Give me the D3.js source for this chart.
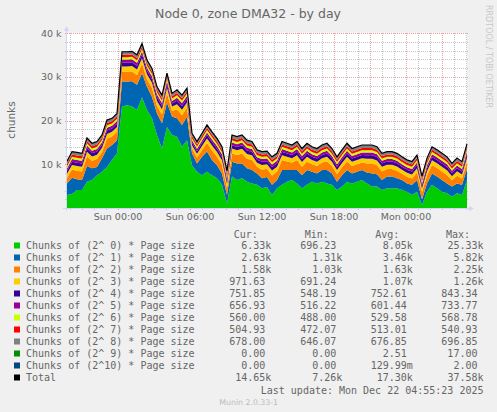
<!DOCTYPE html>
<html lang="en">
<head>
<meta charset="utf-8">
<title>Node 0, zone DMA32 - by day</title>
<script src="https://cdn.jsdelivr.net/npm/d3@7"></script>
<style>
  html, body { margin: 0; padding: 0; background: #f0f0f0; }
  svg { display: block; }
</style>
</head>
<body>
<script>
// one sample every 25 minutes, Sat 19:45 -> Mon 05:05
var start = Date.UTC(2025, 11, 20, 19, 45);
var stepMin = 25;

// chunks of (2^n) * page size
var order0 = [3000, 3200, 4100, 4100, 6000, 6400, 7500, 8300, 9400, 11000,
  12500, 23200, 23500, 23200, 22400, 25330, 22400, 20500, 16700, 13600,
  18500, 16700, 16300, 14000, 15500, 9800, 8300, 7500, 8300, 7500,
  6800, 5300, 1100, 7200, 6400, 6800, 6000, 5600, 5300, 4500,
  4800, 3000, 4500, 5300, 6000, 6400, 5600, 4500, 5300, 6000,
  5600, 6000, 5600, 5300, 4100, 4900, 6000, 5600, 6000, 6400,
  5600, 4900, 4900, 4100, 4500, 4500, 4500, 4100, 3700, 3000,
  3700, 700, 3700, 5300, 4500, 3700, 3400, 2600, 3400, 3000,
  6330];
var order1 = [2600, 3700, 2500, 2300, 3600, 2700, 1900, 3100, 4200, 3400,
  3000, 5700, 5400, 5800, 5800, 5470, 5300, 4900, 4900, 5800,
  5600, 4200, 4200, 5000, 5400, 2700, 1900, 4200, 4600, 3500,
  3000, 2600, 1900, 3400, 3800, 3400, 3100, 3100, 2600, 2300,
  2300, 2300, 1900, 3400, 2700, 2300, 3100, 3000, 3400, 2300,
  2300, 2700, 3100, 2600, 1900, 2600, 2700, 2300, 2300, 2300,
  2500, 3000, 2800, 2300, 2700, 2700, 2300, 2300, 1900, 2300,
  2700, 1310, 1900, 2600, 2700, 2700, 2200, 2300, 2200, 2300,
  2630];
var order2 = [1340, 1885, 1930, 1930, 2145, 1690, 1790, 1420, 2220, 1930,
  1930, 2220, 2220, 2220, 2220, 2200, 1705, 2045, 1705, 1945,
  2120, 1280, 2045, 2220, 2045, 1110, 1330, 1520, 1930, 2145,
  1930, 1930, 1585, 1930, 1930, 2245, 2145, 2245, 1520, 1930,
  1890, 2145, 1930, 2245, 1930, 1690, 2245, 1930, 1930, 1690,
  1690, 1690, 1930, 1690, 1690, 1790, 1930, 1690, 1690, 1690,
  2045, 2245, 2045, 1930, 1690, 1690, 1690, 1420, 1520, 1420,
  1690, 1670, 1790, 1930, 1930, 1930, 1930, 1420, 1790, 1420,
  1580];
var order3 = [900, 1050, 1080, 1080, 1120, 1000, 1000, 950, 1120, 1080,
  1080, 1250, 1250, 1250, 1250, 1250, 1150, 1180, 1150, 1180,
  1250, 1000, 1180, 1250, 1180, 750, 850, 950, 1080, 1120,
  1080, 1080, 950, 1080, 1080, 1120, 1120, 1120, 950, 1080,
  1000, 1120, 1080, 1120, 1080, 1000, 1120, 1080, 1080, 1000,
  1000, 1000, 1080, 1000, 1000, 1000, 1080, 1000, 1000, 1000,
  1120, 1120, 1120, 1080, 1000, 1000, 1000, 950, 950, 950,
  1000, 800, 1000, 1080, 1080, 1080, 1080, 950, 1000, 950,
  972];
var order4 = [650, 750, 760, 760, 780, 720, 720, 680, 790, 760,
  760, 840, 840, 840, 840, 840, 800, 810, 800, 810,
  840, 700, 810, 840, 810, 580, 620, 680, 760, 780,
  760, 760, 700, 760, 760, 780, 780, 780, 680, 760,
  720, 780, 760, 780, 760, 720, 780, 760, 760, 720,
  720, 720, 760, 720, 720, 720, 760, 720, 720, 720,
  780, 780, 780, 760, 720, 720, 720, 680, 680, 680,
  720, 600, 720, 760, 760, 760, 760, 680, 720, 680,
  752];
var order5 = [560, 600, 610, 610, 620, 590, 590, 570, 630, 610,
  610, 710, 710, 710, 710, 710, 680, 690, 680, 690,
  710, 600, 690, 710, 690, 530, 550, 570, 610, 620,
  610, 610, 580, 610, 610, 620, 620, 620, 570, 610,
  590, 620, 610, 620, 610, 590, 620, 610, 610, 590,
  590, 590, 610, 590, 590, 590, 610, 590, 590, 590,
  620, 620, 620, 610, 590, 590, 590, 570, 570, 570,
  590, 540, 590, 610, 610, 610, 610, 570, 590, 570,
  657];
var order6 = [500, 530, 530, 530, 540, 525, 525, 515, 540, 530,
  530, 560, 560, 560, 560, 560, 550, 555, 550, 555,
  560, 530, 555, 560, 555, 495, 500, 515, 530, 540,
  530, 530, 520, 530, 530, 540, 540, 540, 515, 530,
  525, 540, 530, 540, 530, 525, 540, 530, 530, 525,
  525, 525, 530, 525, 525, 525, 530, 525, 525, 525,
  540, 540, 540, 530, 525, 525, 525, 515, 515, 515,
  525, 500, 525, 530, 530, 530, 530, 515, 525, 515,
  560];
var order7 = [490, 510, 510, 510, 515, 505, 505, 500, 515, 510,
  510, 530, 530, 530, 530, 530, 525, 530, 525, 530,
  530, 510, 530, 530, 530, 480, 490, 500, 510, 515,
  510, 510, 500, 510, 510, 515, 515, 515, 500, 510,
  505, 515, 510, 515, 510, 505, 515, 510, 510, 505,
  505, 505, 510, 505, 505, 505, 510, 505, 505, 505,
  515, 515, 515, 510, 505, 505, 505, 500, 500, 500,
  505, 485, 505, 510, 510, 510, 510, 500, 505, 500,
  505];
var order8 = [660, 675, 680, 680, 680, 670, 670, 665, 685, 680,
  680, 690, 690, 690, 690, 690, 690, 690, 690, 690,
  690, 680, 690, 690, 690, 655, 660, 665, 680, 680,
  680, 680, 665, 680, 680, 680, 680, 680, 665, 680,
  670, 680, 680, 680, 680, 670, 680, 680, 680, 670,
  670, 670, 680, 670, 670, 670, 680, 670, 670, 670,
  680, 680, 680, 680, 670, 670, 670, 665, 665, 665,
  670, 655, 670, 680, 680, 680, 680, 665, 670, 665,
  678];
var order9 = [0, 0, 0, 0, 0, 0, 0, 0, 0, 0,
  0, 17, 17, 17, 15, 17, 12, 8, 4, 0,
  0, 0, 0, 0, 0, 0, 0, 0, 0, 0,
  0, 0, 0, 0, 0, 0, 0, 0, 0, 0,
  0, 0, 0, 0, 0, 0, 0, 0, 0, 0,
  0, 0, 0, 0, 0, 0, 0, 0, 0, 0,
  0, 0, 0, 0, 0, 0, 0, 0, 0, 0,
  0, 0, 0, 0, 0, 0, 0, 0, 0, 0,
  0];
var order10 = [0, 0, 0, 0, 0, 0, 0, 0, 0, 0,
  0, 0, 1, 0, 0, 2, 0, 0, 0, 0,
  0, 0, 0, 0, 0, 0, 0, 0, 0, 0,
  0, 0, 0, 0, 0, 0, 0, 0, 0, 0,
  0, 0, 0, 0, 0, 0, 0, 0, 0, 0,
  0, 0, 0, 0, 0, 0, 0, 0, 0, 0,
  0, 0, 0, 0, 0, 0, 0, 0, 0, 0,
  0, 0, 0, 0, 0, 0, 0, 0, 0, 0,
  0];

var seriesLabels = ["Chunks of (2^ 0) * Page size", "Chunks of (2^ 1) * Page size",
  "Chunks of (2^ 2) * Page size", "Chunks of (2^ 3) * Page size",
  "Chunks of (2^ 4) * Page size", "Chunks of (2^ 5) * Page size",
  "Chunks of (2^ 6) * Page size", "Chunks of (2^ 7) * Page size",
  "Chunks of (2^ 8) * Page size", "Chunks of (2^ 9) * Page size",
  "Chunks of (2^10) * Page size", "Total"];
var seriesColors = ["#00CC00", "#0066B3", "#FF8000", "#FFCC00", "#330099", "#990099",
  "#CCFF00", "#FF0000", "#808080", "#008F00", "#00487D", "#000000"];
var curText = ["6.33k", "2.63k", "1.58k", "971.63", "751.85", "656.93",
  "560.00", "504.93", "678.00", "0.00", "0.00", "14.65k"];
var minText = ["696.23", "1.31k", "1.03k", "691.24", "548.19", "516.22",
  "488.00", "472.07", "646.07", "0.00", "0.00", "7.26k"];
var avgText = ["8.05k", "3.46k", "1.63k", "1.07k", "752.61", "601.44",
  "529.58", "513.01", "676.85", "2.51", "129.99m", "17.30k"];
var maxText = ["25.33k", "5.82k", "2.25k", "1.26k", "843.34", "733.77",
  "568.78", "540.93", "696.85", "17.00", "2.00", "37.58k"];
var yTicks = [10000, 20000, 30000, 40000];

var layers = [order0, order1, order2, order3, order4, order5, order6,
  order7, order8, order9, order10];

var w = 497, h = 412;
var plotL = 67, plotR = 467, plotT = 33, plotB = 208;
var textCol = "#666666", axisCol = "#CFD6F8";
var mono = "'DejaVu Sans Mono', monospace", sans = "'DejaVu Sans', sans-serif";

var rows = order0.map(function(d, i) {
  var r = {time: new Date(start + i * stepMin * 60000)};
  layers.forEach(function(s, k) { r["s" + k] = s[i]; });
  return r;
});
var keys = layers.map(function(s, k) { return "s" + k; });
var stacked = d3.stack().keys(keys)(rows);

var t0 = rows[0].time, t1 = rows[rows.length - 1].time;
var x = d3.scaleUtc().domain([t0, t1]).range([plotL, plotR]);
var y = d3.scaleLinear().domain([0, 40000]).range([plotB, plotT]);

var svg = d3.select("body").append("svg")
  .attr("width", w).attr("height", h)
  .style("background", "#f0f0f0");

svg.append("rect")
  .attr("x", plotL).attr("y", plotT)
  .attr("width", plotR - plotL).attr("height", plotB - plotT)
  .attr("fill", "#ffffff");

// grid, dotted like rrdtool
var grid = svg.append("g").attr("shape-rendering", "crispEdges")
  .attr("stroke-dasharray", "1,1").attr("stroke-width", 1);

d3.range(2000, 40001, 2000).forEach(function(v) {
  var major = v % 10000 === 0;
  grid.append("line")
    .attr("x1", plotL - 2).attr("x2", plotR + 2)
    .attr("y1", Math.round(y(v)) + 0.5).attr("y2", Math.round(y(v)) + 0.5)
    .attr("stroke", major ? "#eda2a2" : "#c6c6c6");
});
d3.utcHour.range(t0, t1).forEach(function(t) {
  var major = t.getUTCHours() % 3 === 0;
  grid.append("line")
    .attr("x1", Math.round(x(t)) + 0.5).attr("x2", Math.round(x(t)) + 0.5)
    .attr("y1", plotT).attr("y2", plotB + 2)
    .attr("stroke", major ? "#eda2a2" : "#c6c6c6");
});

// stacked areas
var area = d3.area()
  .x(function(d) { return x(d.data.time); })
  .y0(function(d) { return y(d[0]); })
  .y1(function(d) { return y(d[1]); });

svg.append("g").selectAll("path")
  .data(stacked)
  .enter()
  .append("path")
  .attr("d", area)
  .attr("fill", function(d, i) { return seriesColors[i]; });

// total line
var line = d3.line()
  .x(function(d) { return x(d.data.time); })
  .y(function(d) { return y(d[1]); });
svg.append("path")
  .datum(stacked[stacked.length - 1])
  .attr("d", line)
  .attr("fill", "none")
  .attr("stroke", "#000000")
  .attr("stroke-width", 1.2);

// axes
svg.append("line")
  .attr("x1", plotL - 4).attr("x2", plotR + 4)
  .attr("y1", plotB + 0.5).attr("y2", plotB + 0.5)
  .attr("stroke", axisCol).attr("shape-rendering", "crispEdges");
svg.append("line")
  .attr("x1", plotL - 0.5).attr("x2", plotL - 0.5)
  .attr("y1", plotB + 3).attr("y2", plotT - 4)
  .attr("stroke", axisCol).attr("shape-rendering", "crispEdges");
svg.append("path")
  .attr("d", "M" + (plotR + 7) + "," + (plotB + 0.5) + "L" + (plotR + 2) + "," + (plotB - 2) +
    "L" + (plotR + 2) + "," + (plotB + 3) + "Z")
  .attr("fill", axisCol);
svg.append("path")
  .attr("d", "M" + (plotL - 0.5) + "," + (plotT - 7) + "L" + (plotL - 3) + "," + (plotT - 2) +
    "L" + (plotL + 2) + "," + (plotT - 2) + "Z")
  .attr("fill", axisCol);

// tick labels
svg.append("g").selectAll("text")
  .data(yTicks)
  .enter()
  .append("text")
  .text(function(d) { return d3.format("d")(d / 1000) + " k"; })
  .attr("x", 61.5)
  .attr("y", function(d) { return y(d) + 3.5; })
  .attr("text-anchor", "end")
  .attr("font-family", sans).attr("font-size", 9.5)
  .attr("fill", textCol);

svg.append("g").selectAll("text")
  .data(d3.utcHour.every(6).range(t0, t1))
  .enter()
  .append("text")
  .text(d3.utcFormat("%a %H:%M"))
  .attr("x", function(d) { return x(d); })
  .attr("y", 220)
  .attr("text-anchor", "middle")
  .attr("font-family", sans).attr("font-size", 9.5)
  .attr("fill", textCol);

// titles
svg.append("text")
  .text("Node 0, zone DMA32 - by day")
  .attr("x", 248).attr("y", 18)
  .attr("text-anchor", "middle")
  .attr("font-family", sans).attr("font-size", 12.5)
  .attr("fill", textCol);
svg.append("text")
  .text("chunks")
  .attr("transform", "translate(14.5,120) rotate(-90)")
  .attr("text-anchor", "middle")
  .attr("font-family", sans).attr("font-size", 10.5)
  .attr("fill", textCol);
svg.append("text")
  .text("RRDTOOL / TOBI OETIKER")
  .attr("transform", "translate(485.5,5) rotate(90)")
  .attr("font-family", sans).attr("font-size", 8)
  .attr("fill", "#c8c8c8");

// legend
var cw = 6.02;
var colEnds = [271.3, 342.3, 412.8, 483.5];
var headers = ["Cur:", "Min:", "Avg:", "Max:"];
var legend = svg.append("g")
  .attr("font-family", mono).attr("font-size", 10)
  .attr("fill", textCol);

headers.forEach(function(t, c) {
  legend.append("text").text(t)
    .attr("x", colEnds[c] - 13.4).attr("y", 237.5)
    .attr("text-anchor", "end");
});

var rowY = function(i) { return 249 + i * 12; };
legend.selectAll("rect")
  .data(seriesLabels)
  .enter()
  .append("rect")
  .attr("x", 14).attr("y", function(d, i) { return rowY(i) - 6.5; })
  .attr("width", 6).attr("height", 6)
  .attr("fill", function(d, i) { return seriesColors[i]; });

legend.selectAll("text.lab")
  .data(seriesLabels)
  .enter()
  .append("text").attr("class", "lab")
  .text(function(d) { return d; })
  .attr("x", 26).attr("y", function(d, i) { return rowY(i); })
  .style("white-space", "pre");

[curText, minText, avgText, maxText].forEach(function(col, c) {
  legend.selectAll("text.v" + c)
    .data(col)
    .enter()
    .append("text").attr("class", "v" + c)
    .text(function(d) { return d; })
    .attr("x", function(d) {
      var last = d.charAt(d.length - 1);
      return (last === "k" || last === "m") ? colEnds[c] : colEnds[c] - cw;
    })
    .attr("y", function(d, i) { return rowY(i); })
    .attr("text-anchor", "end");
});

legend.append("text")
  .text("Last update: Mon Dec 22 04:55:23 2025")
  .attr("x", 483.5).attr("y", 393.5)
  .attr("text-anchor", "end");

svg.append("text")
  .text("Munin 2.0.33-1")
  .attr("x", 248.7).attr("y", 405)
  .attr("text-anchor", "middle")
  .attr("font-family", sans).attr("font-size", 7.8)
  .attr("fill", "#bbbbbb");
</script>
</body>
</html>
